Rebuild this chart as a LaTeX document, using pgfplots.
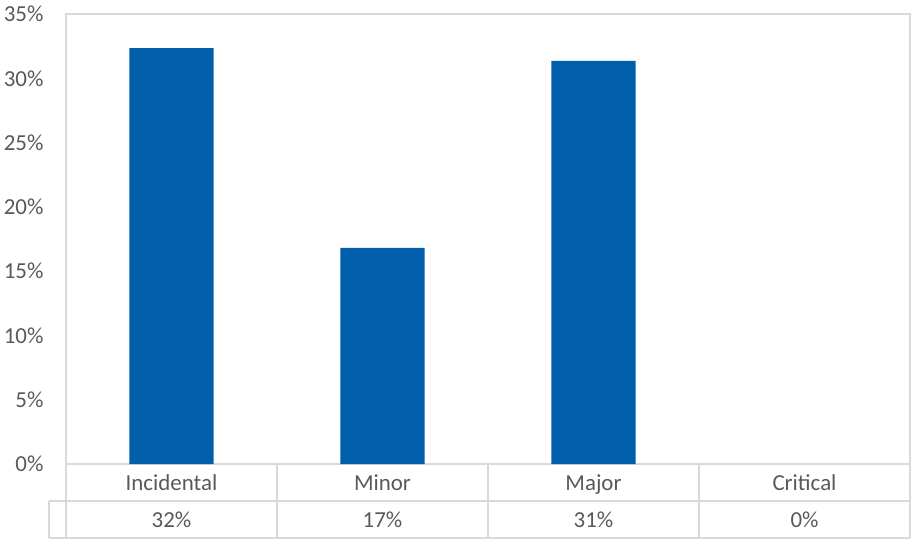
\documentclass[border=0pt]{standalone}
\usepackage{pgfplots}
\pgfplotsset{compat=1.18}
\usepackage{fontspec}
\setmainfont{Carlito}
\definecolor{barblue}{RGB}{0,94,170}
\definecolor{txtgray}{RGB}{89,89,89}
\definecolor{linegray}{RGB}{217,217,217}
\tikzset{tbl/.style={text=txtgray, text height=16bp, text depth=5bp, inner sep=0pt, yshift=-2.5bp}}
\begin{document}
\begin{tikzpicture}
\useasboundingbox (0,0) rectangle (912bp,540bp);
\begin{axis}[
  at={(66bp,76bp)}, anchor=south west,
  scale only axis, width=844bp, height=450bp,
  xmin=-0.5, xmax=3.5, ymin=0, ymax=35,
  ytick={0,5,...,35},
  yticklabel={\pgfmathprintnumber{\tick}\%},
  /pgf/number format/assume math mode=true,
  xtick=\empty,
  major tick length=0pt,
  axis line style={draw=linegray, line width=1.2bp},
  tick label style={font=\fontsize{23}{26}\selectfont, text=txtgray},
  yticklabel style={xshift=-19bp},
  clip=false,
  font=\fontsize{23}{26}\selectfont,
]
\addplot[ybar, bar width=0.4, fill=barblue, draw=none] coordinates {(0,32.35) (1,16.8) (2,31.35)};
% data table
\draw[linegray, line width=1.2bp] (axis cs:-0.5806,-2.878) -- (axis cs:3.5,-2.878);
\draw[linegray, line width=1.2bp] (axis cs:-0.5806,-5.756) -- (axis cs:3.5,-5.756);
\draw[linegray, line width=1.2bp] (axis cs:-0.5806,-2.878) -- (axis cs:-0.5806,-5.756);
\pgfplotsinvokeforeach{-0.5,0.5,1.5,2.5,3.5}{
  \draw[linegray, line width=1.2bp] (axis cs:#1,0) -- (axis cs:#1,-5.756);
}
\node[tbl] at (axis cs:0,-1.439) {Incidental};
\node[tbl] at (axis cs:1,-1.439) {Minor};
\node[tbl] at (axis cs:2,-1.439) {Major};
\node[tbl] at (axis cs:3,-1.439) {Critical};
\node[tbl] at (axis cs:0,-4.317) {32\%};
\node[tbl] at (axis cs:1,-4.317) {17\%};
\node[tbl] at (axis cs:2,-4.317) {31\%};
\node[tbl] at (axis cs:3,-4.317) {0\%};
\end{axis}
\end{tikzpicture}
\end{document}
